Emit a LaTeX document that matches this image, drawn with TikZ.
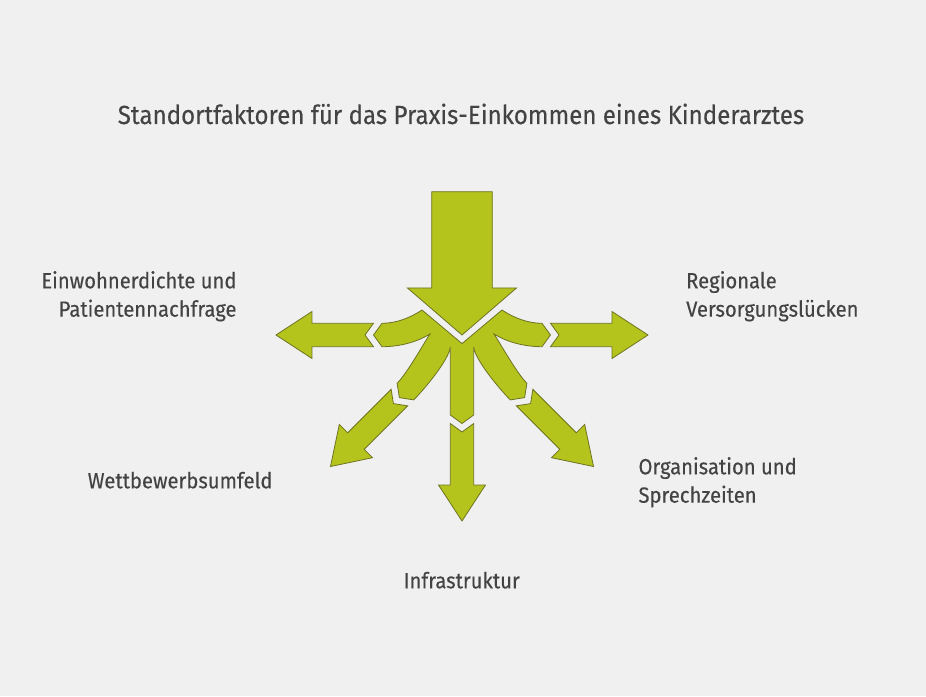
\documentclass[tikz,border=0pt]{standalone}
\usepackage{fontspec}
\setmainfont{Fira Sans}[FakeStretch=0.92, FakeBold=0.25]
\usepackage{xcolor}
\usepackage{tikz}
\definecolor{bggray}{HTML}{F0F0F0}
\definecolor{leafgreen}{HTML}{B5C41C}
\definecolor{leafedge}{HTML}{6E7322}
\definecolor{textgray}{HTML}{434343}
\tikzstyle{arrowshape} = [fill=leafgreen, draw=leafedge, line width=0.8pt, line join=miter]
\tikzstyle{labeltext} = [text=textgray, inner sep=0pt, font=\fontsize{22}{28.4}\selectfont]
\tikzstyle{titletext} = [text=textgray, inner sep=0pt, font=\fontsize{26.2}{30}\selectfont]

\begin{document}
\begin{tikzpicture}[x=1pt, y=1pt]
        \fill[bggray] (-462,-361) rectangle (464,335);
        \useasboundingbox (-462,-361) rectangle (464,335);
        % incoming arrow
        \draw[arrowshape] (0,0) -- (54.5,47) -- (30.3,47) -- (30.3,143.3)
            -- (-30.3,143.3) -- (-30.3,47) -- (-54.5,47) -- cycle;
        % splitting hub with five fingers
        \draw[arrowshape] (0,-8.6) -- (-40,25)
            .. controls (-52,17) and (-66,11.7) .. (-80,11.7)
            -- (-88.5,0) -- (-80,-11.7)
            .. controls (-62,-11.7) and (-45,-7) .. (-32,1)
            .. controls (-38,-8) and (-54.9,-38.3) .. (-64.9,-48.3)
            -- (-62.6,-62.6) -- (-48.3,-64.9)
            .. controls (-38.3,-54.9) and (-13,-25) .. (-11.7,-12)
            -- (-11.7,-80) -- (0,-88.5) -- (11.7,-80) -- (11.7,-12)
            .. controls (13,-25) and (38.3,-54.9) .. (48.3,-64.9)
            -- (62.6,-62.6) -- (64.9,-48.3)
            .. controls (54.9,-38.3) and (38,-8) .. (32,1)
            .. controls (45,-7) and (62,-11.7) .. (80,-11.7)
            -- (88.5,0) -- (80,11.7)
            .. controls (66,11.7) and (52,17) .. (40,25)
            -- cycle;
        % outgoing arrows
        \foreach \ang in {180,225,270,315,0}{
            \draw[arrowshape, rotate=\ang] (97,0) -- (88.5,11.7) -- (150,11.7)
                -- (150,23.5) -- (186,0) -- (150,-23.5) -- (150,-11.7)
                -- (88.5,-11.7) -- cycle;
        }
        \node[titletext, anchor=base] (title) at (-1,211)
            {Standortfaktoren für das Praxis-Einkommen eines Kinderarztes};
        \node[labeltext, anchor=base east, align=right] (nachfrage) at (-225.3,18.3)
            {Einwohnerdichte und\\Patientennachfrage};
        \node[labeltext, anchor=base west, align=left] (versorgung) at (224,18.3)
            {Regionale\\Versorgungslücken};
        \node[labeltext, anchor=base east] (wettbewerb) at (-189.3,-153.3)
            {Wettbewerbsumfeld};
        \node[labeltext, anchor=base west, align=left] (organisation) at (176.3,-167.7)
            {Organisation und\\Sprechzeiten};
        \node[labeltext, anchor=base] (infra) at (-0.3,-253.3)
            {Infrastruktur};
\end{tikzpicture}
\end{document}
